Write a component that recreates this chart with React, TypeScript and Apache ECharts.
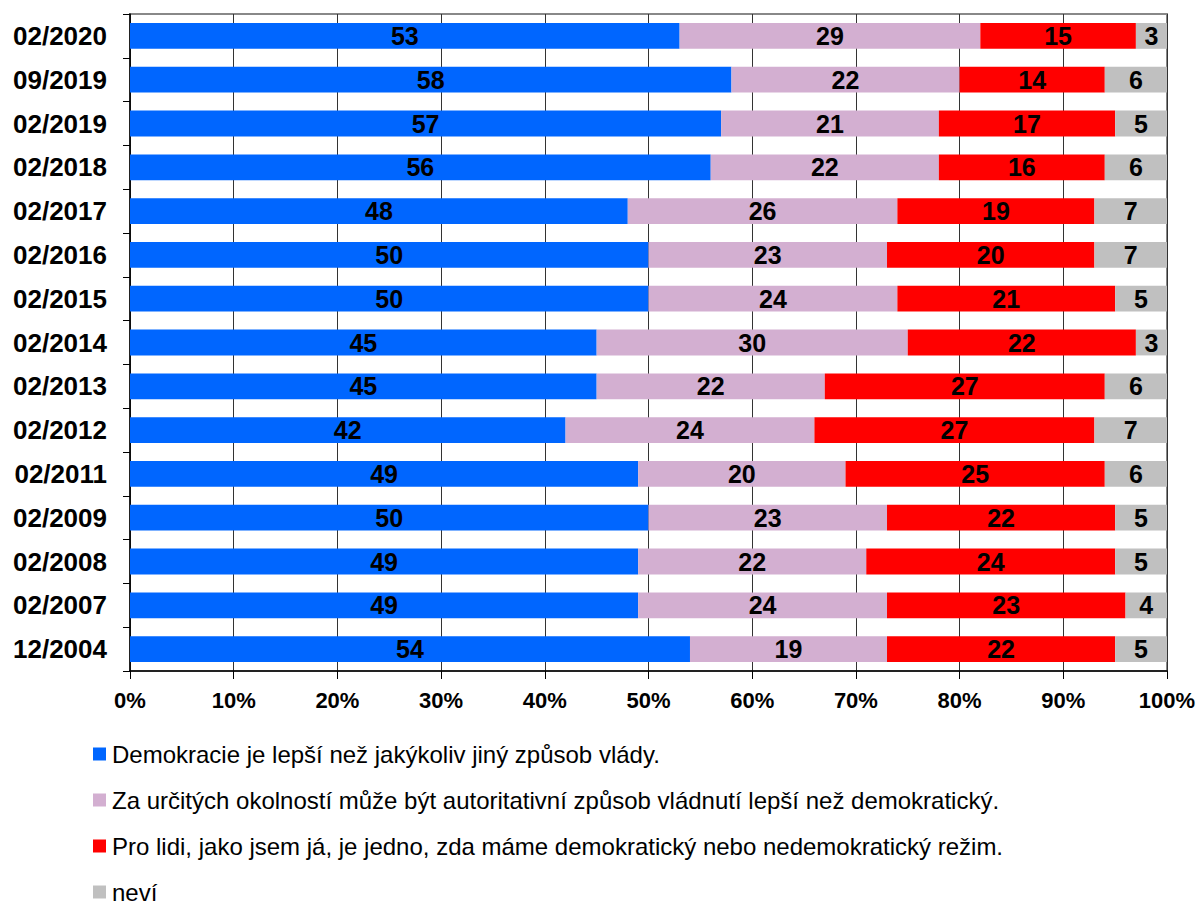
import React, { useEffect, useRef } from "react";
import * as echarts from "echarts";

const categories = [
  "02/2020", "09/2019", "02/2019", "02/2018", "02/2017", "02/2016", "02/2015",
  "02/2014", "02/2013", "02/2012", "02/2011", "02/2009", "02/2008", "02/2007", "12/2004",
];
const seriesNames = [
  "Demokracie je lepší než jakýkoliv jiný způsob vlády.",
  "Za určitých okolností může být autoritativní způsob vládnutí lepší než demokratický.",
  "Pro lidi, jako jsem já, je jedno, zda máme demokratický nebo nedemokratický režim.",
  "neví",
];
const demokracie = [53, 58, 57, 56, 48, 50, 50, 45, 45, 42, 49, 50, 49, 49, 54];
const autoritativni = [29, 22, 21, 22, 26, 23, 24, 30, 22, 24, 20, 23, 22, 24, 19];
const jedno = [15, 14, 17, 16, 19, 20, 21, 22, 27, 27, 25, 22, 24, 23, 22];
const nevi = [3, 6, 5, 6, 7, 7, 5, 3, 6, 7, 6, 5, 5, 4, 5];
const xTicks = [0, 10, 20, 30, 40, 50, 60, 70, 80, 90, 100];

const colors = ["#0066FF", "#D3AFD1", "#FF0000", "#C0C0C0"];
const FONT = "'Liberation Sans', Arial, sans-serif";

export default function App() {
  const ref = useRef<HTMLDivElement>(null);
  useEffect(() => {
    if (!ref.current) return;
    const chart = echarts.init(ref.current, null, { renderer: "svg" });
    const data = [demokracie, autoritativni, jedno, nevi];
    chart.setOption({
      animation: false,
      textStyle: { fontFamily: FONT },
      grid: {
        left: 130,
        right: 33,
        top: 14,
        bottom: 237,
        show: true,
        borderColor: "#888888",
        borderWidth: 2,
      },
      legend: seriesNames.map((name, i) => ({
        orient: "vertical",
        left: 88,
        top: 737 + i * 46,
        itemWidth: 13,
        itemHeight: 13,
        itemGap: 6,
        icon: "rect",
        data: [name],
        textStyle: { fontSize: 24, color: "#000", fontFamily: FONT, lineHeight: 24, padding: [0, 0, 0, 1] },
      })),
      xAxis: {
        type: "value",
        min: xTicks[0],
        max: xTicks[xTicks.length - 1],
        interval: 10,
        axisLine: { show: true, lineStyle: { color: "#000", width: 1.5 } },
        axisTick: { show: true, length: 8, lineStyle: { color: "#000" } },
        splitLine: { show: true, lineStyle: { color: "#333", width: 1 } },
        axisLabel: {
          formatter: "{value}%",
          fontSize: 22,
          fontWeight: "bold",
          color: "#000",
          margin: 18,
          fontFamily: FONT,
        },
      },
      yAxis: {
        type: "category",
        inverse: true,
        data: categories,
        axisLine: { show: true, lineStyle: { color: "#000", width: 1.5 } },
        axisTick: { show: true, length: 7, inside: false, lineStyle: { color: "#000" } },
        axisLabel: {
          fontSize: 26,
          fontWeight: "bold",
          color: "#000",
          margin: 23,
          fontFamily: FONT,
        },
      },
      series: seriesNames.map((name, i) => ({
        name,
        type: "bar",
        stack: "total",
        data: data[i],
        barWidth: "59%",
        itemStyle: { color: colors[i] },
        label: {
          show: true,
          position: "inside",
          fontSize: 25,
          fontWeight: "bold",
          color: "#000",
          fontFamily: FONT,
        },
      })),
    });
    return () => chart.dispose();
  }, []);
  return (
    <div
      ref={ref}
      style={{ position: "fixed", left: 0, top: 0, width: 1200, height: 908, background: "#fff" }}
    />
  );
}
